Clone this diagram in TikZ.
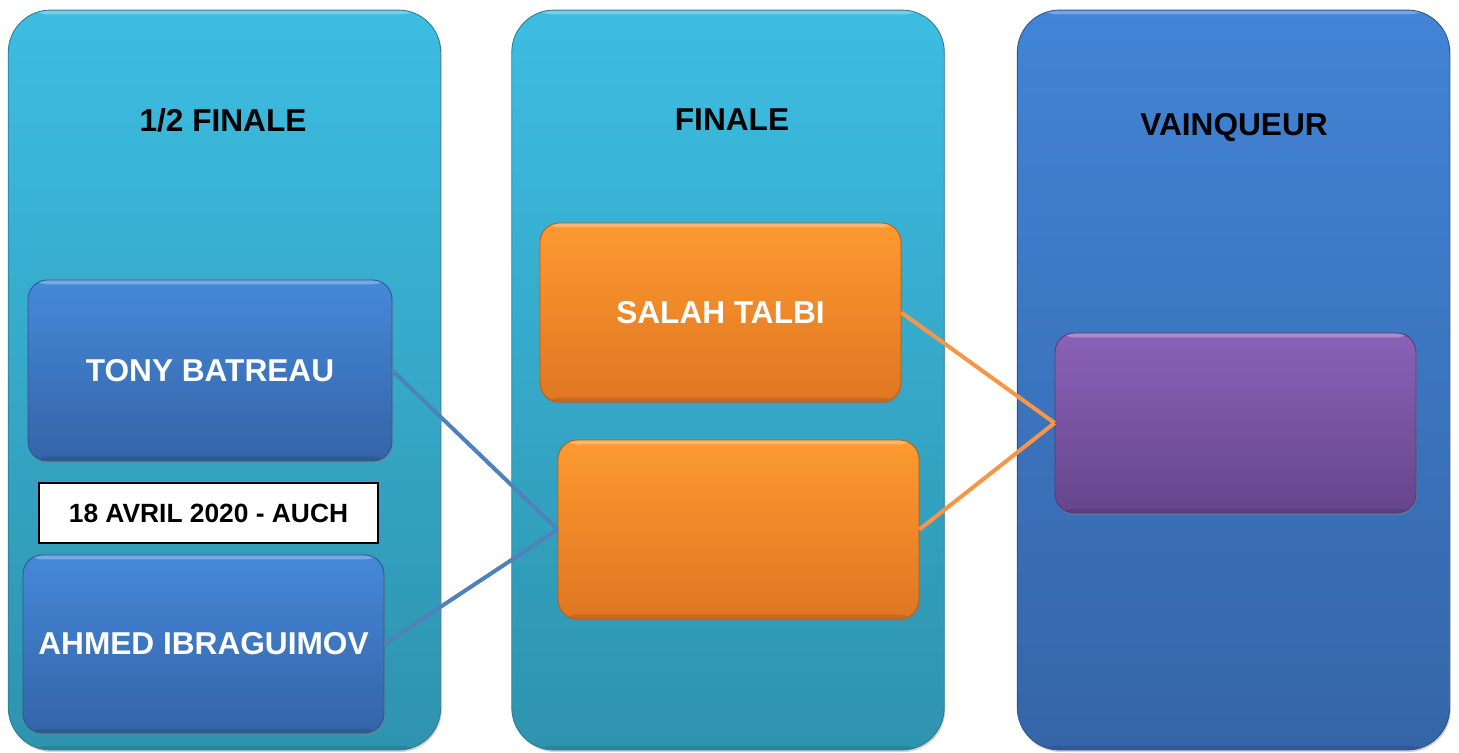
\documentclass[tikz,border=0pt]{standalone}
\usepackage{fontspec}
\setmainfont{Liberation Sans}
\usetikzlibrary{shadows}
\definecolor{cyantop}{HTML}{3DBDE2}
\definecolor{cyanbot}{HTML}{2E93AE}
\definecolor{cyanedge}{HTML}{2A7E96}
\definecolor{bluetop}{HTML}{4284D6}
\definecolor{bluebot}{HTML}{3565A7}
\definecolor{blueedge}{HTML}{2D5690}
\definecolor{btop}{HTML}{4589DA}
\definecolor{bbot}{HTML}{3464A6}
\definecolor{otop}{HTML}{FD9A30}
\definecolor{obot}{HTML}{DF7622}
\definecolor{oedge}{HTML}{B85E18}
\definecolor{ptop}{HTML}{8A62B8}
\definecolor{pbot}{HTML}{66458B}
\definecolor{pedge}{HTML}{573A78}
\definecolor{bline}{HTML}{4F81BD}
\definecolor{oline}{HTML}{F79646}
\tikzset{
  bevel/.style={path picture={
      \fill[white,opacity=0.28] (path picture bounding box.north west) rectangle ([yshift=-#1]path picture bounding box.north east);
      \fill[black,opacity=0.10] (path picture bounding box.south west) rectangle ([yshift=#1]path picture bounding box.south east);}},
  column/.style={rounded corners=24pt, inner sep=0pt, minimum width=8.65cm, minimum height=14.8cm,
      shading=axis, draw=#1edge, line width=0.5pt, bevel=2.5pt,
      drop shadow={shadow xshift=0.6pt, shadow yshift=-1.2pt, opacity=0.35}},
  colcyan/.style={column=cyan, top color=cyantop, bottom color=cyanbot},
  colblue/.style={column=blue, top color=bluetop, bottom color=bluebot},
  card/.style={rounded corners=11pt, inner sep=0pt, minimum width=7.22cm, minimum height=3.58cm,
      shading=axis, line width=0.5pt, bevel=2.5pt, text=white,
      font=\fontsize{18}{20}\selectfont\bfseries,
      drop shadow={shadow xshift=0.6pt, shadow yshift=-1.5pt, opacity=0.4}},
  bluecard/.style={card, top color=btop, bottom color=bbot, draw=blueedge},
  orangecard/.style={card, top color=otop, bottom color=obot, draw=oedge},
  purplecard/.style={card, top color=ptop, bottom color=pbot, draw=pedge},
  title/.style={font=\fontsize{18}{20}\selectfont\bfseries, text=black, inner sep=0pt},
  datebox/.style={draw=black, line width=0.8pt, fill=white, inner sep=0pt,
      minimum width=6.78cm, minimum height=1.2cm, font=\fontsize{15}{17}\selectfont\bfseries},
  link/.style={line width=2.3pt}
}
\begin{document}
\begin{tikzpicture}[x=0.02cm,y=-0.02cm]
\useasboundingbox (0,0) rectangle (1459,753);
% columns
\node[colcyan] (c1) at (224.5,380) {};
\node[colcyan] (c2) at (728,380) {};
\node[colblue] (c3) at (1233.5,380) {};
% titles
\node[title] (t1) at (223,120) {1/2 FINALE};
\node[title] (t2) at (732,120) {FINALE};
\node[title] (t3) at (1234,128) {VAINQUEUR};
% cards
\node[bluecard, minimum width=7.28cm, minimum height=3.62cm] (tony) at (210,370.5) {TONY BATREAU};
\node[datebox] (date) at (208.5,513) {18 AVRIL 2020 - AUCH};
\node[bluecard, minimum height=3.56cm] (ahmed) at (203.5,644) {AHMED IBRAGUIMOV};
\node[orangecard] (salah) at (720.5,312.5) {SALAH TALBI};
\node[orangecard] (f2) at (738.5,529.5) {};
\node[purplecard, minimum height=3.6cm] (win) at (1235.5,423) {};
% connectors
\draw[link, bline] (tony.east) -- (f2.west);
\draw[link, bline] (ahmed.east) -- (f2.west);
\draw[link, oline] (salah.east) -- (win.west);
\draw[link, oline] (f2.east) -- (win.west);
\end{tikzpicture}
\end{document}
